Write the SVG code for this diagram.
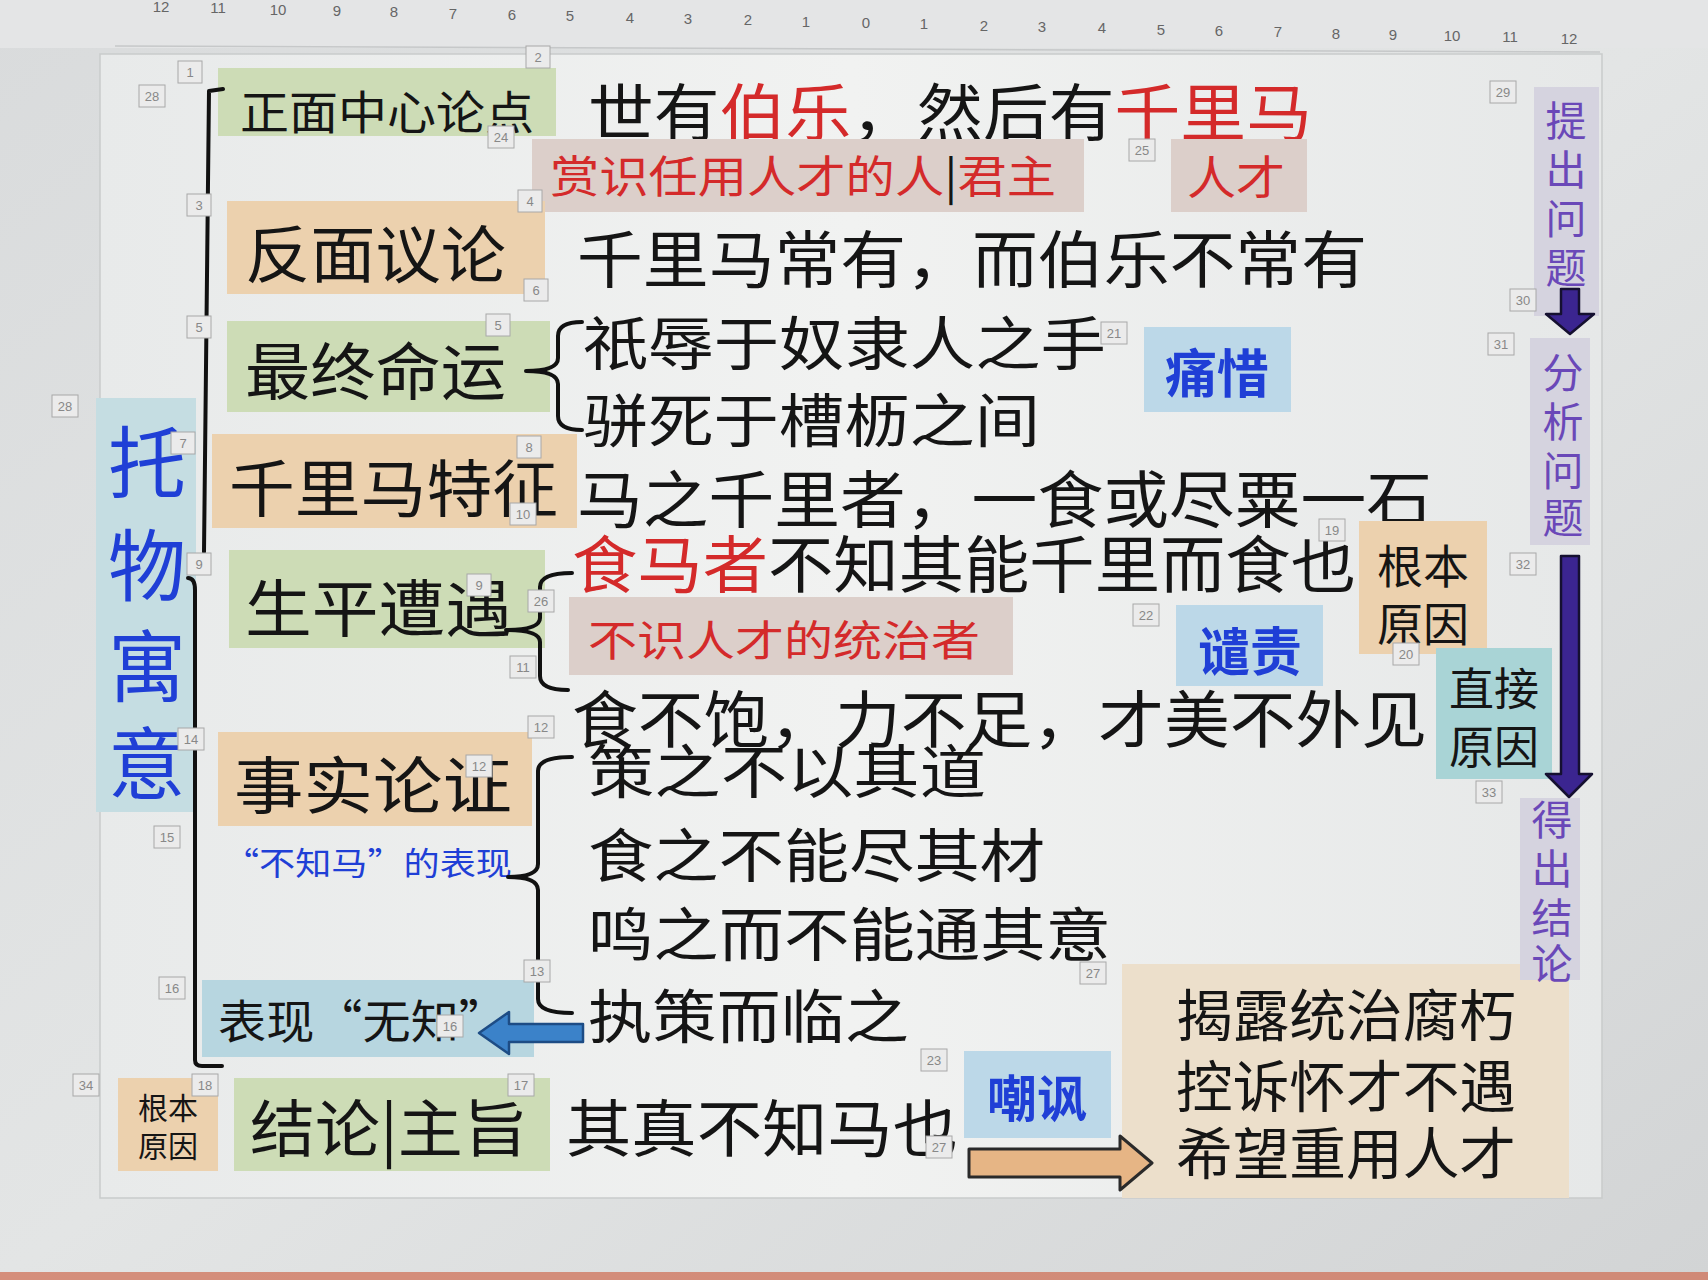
<svg xmlns="http://www.w3.org/2000/svg" width="1708" height="1280" viewBox="0 0 1708 1280">
<defs>
<style>
.cjk{font-family:"Noto Sans CJK SC","Noto Sans CJK TC",sans-serif;dominant-baseline:central}
.blk{fill:#151515}
.red{fill:#d42a2a}
.blue{fill:#1f3fd6}
.purp{fill:#6a48b8}
.bold{font-weight:700}
.green{fill:#cddcb6}
.orange{fill:#ecd1ae}
.pink{fill:#dccfca}
.lblue{fill:#bcd8e8}
.tag rect{fill:#ebebeb;stroke:#a8a8a8;stroke-width:1}
.tag text{font-family:"Liberation Sans",Arial,sans-serif;font-size:13px;fill:#888;text-anchor:middle;dominant-baseline:central}
.ruler text{font-family:"Liberation Sans",Arial,sans-serif;font-size:15px;fill:#666;text-anchor:middle;dominant-baseline:central}
.brace{fill:none;stroke:#111;stroke-width:4;stroke-linecap:round;stroke-linejoin:round}
.panel{fill:#d5d3df}
</style>
<linearGradient id="bg" x1="0" y1="0" x2="1" y2="1">
<stop offset="0" stop-color="#d9dbdc"/>
<stop offset="0.5" stop-color="#e3e5e5"/>
<stop offset="1" stop-color="#d2d4d5"/>
</linearGradient>
<linearGradient id="slide" x1="0" y1="0" x2="1" y2="0">
<stop offset="0" stop-color="#e8eaea"/>
<stop offset="0.5" stop-color="#f1f2f1"/>
<stop offset="1" stop-color="#e6e8e8"/>
</linearGradient>
</defs>

<!-- background -->
<rect x="0" y="0" width="1708" height="1280" fill="url(#bg)"/>
<rect x="0" y="0" width="1708" height="48" fill="#e4e5e6"/>
<line x1="115" y1="46" x2="1600" y2="52" stroke="#c6c8c9" stroke-width="1.5"/>
<rect x="100" y="54" width="1502" height="1144" fill="url(#slide)" stroke="#c9cbcb" stroke-width="1.5"/>
<rect x="0" y="1272" width="1708" height="8" fill="#cf6a4e" opacity="0.7"/>

<g class="ruler">
<text x="161" y="6">12</text><text x="218" y="7">11</text><text x="278" y="9">10</text><text x="337" y="10">9</text><text x="394" y="11">8</text><text x="453" y="13">7</text><text x="512" y="14">6</text><text x="570" y="15">5</text><text x="630" y="17">4</text><text x="688" y="18">3</text><text x="748" y="19">2</text><text x="806" y="21">1</text><text x="866" y="22">0</text><text x="924" y="23">1</text><text x="984" y="25">2</text><text x="1042" y="26">3</text><text x="1102" y="27">4</text><text x="1161" y="29">5</text><text x="1219" y="30">6</text><text x="1278" y="31">7</text><text x="1336" y="33">8</text><text x="1393" y="34">9</text><text x="1452" y="35">10</text><text x="1510" y="36">11</text><text x="1569" y="38">12</text>
</g>

<!-- nodes -->
<g id="n-zhengmian">
<rect class="green" x="218" y="68" width="338" height="68"/>
<text class="cjk blk" x="240" y="109" font-size="46" textLength="294" lengthAdjust="spacingAndGlyphs">正面中心论点</text>
</g>
<g id="n-shiyou">
<text class="cjk blk" x="588" y="109" font-size="62" textLength="724" lengthAdjust="spacingAndGlyphs">世有<tspan class="red">伯乐</tspan>，然后有<tspan class="red">千里马</tspan></text>
</g>
<g id="n-shangshi">
<rect class="pink" x="532" y="139" width="552" height="73"/>
<text class="cjk red" x="550" y="174" font-size="44" textLength="506" lengthAdjust="spacingAndGlyphs">赏识任用人才的人<tspan class="blk">|</tspan>君主</text>
</g>
<g id="n-rencai">
<rect class="pink" x="1171" y="139" width="136" height="73"/>
<text class="cjk red" x="1187" y="174" font-size="46" textLength="98" lengthAdjust="spacingAndGlyphs">人才</text>
</g>
<g id="n-fanmian">
<rect class="orange" x="227" y="201" width="318" height="93"/>
<text class="cjk blk" x="245" y="251" font-size="62" textLength="261" lengthAdjust="spacingAndGlyphs">反面议论</text>
</g>
<g id="n-changyou">
<text class="cjk blk" x="577" y="256" font-size="62" textLength="790" lengthAdjust="spacingAndGlyphs">千里马常有，而伯乐不常有</text>
</g>
<g id="n-zuizhong">
<rect class="green" x="227" y="321" width="323" height="91"/>
<text class="cjk blk" x="245" y="368" font-size="62" textLength="261" lengthAdjust="spacingAndGlyphs">最终命运</text>
</g>
<g id="n-zhiru">
<text class="cjk blk" x="583" y="340" font-size="58" textLength="523" lengthAdjust="spacingAndGlyphs">祇辱于奴隶人之手</text>
</g>
<g id="n-pianshi">
<text class="cjk blk" x="583" y="417" font-size="58" textLength="457" lengthAdjust="spacingAndGlyphs">骈死于槽枥之间</text>
</g>
<g id="n-tongxi">
<rect class="lblue" x="1144" y="327" width="147" height="85"/>
<text class="cjk blue bold" x="1217" y="370" font-size="52" text-anchor="middle">痛惜</text>
</g>
<g id="n-tuowu">
<rect fill="#c5dde2" x="96" y="398" width="100" height="414"/>
<text class="cjk blue" x="147" y="458" font-size="78" text-anchor="middle">托</text>
<text class="cjk blue" x="147" y="561" font-size="78" text-anchor="middle">物</text>
<text class="cjk blue" x="147" y="662" font-size="78" text-anchor="middle">寓</text>
<text class="cjk blue" x="147" y="759" font-size="78" text-anchor="middle">意</text>
</g>
<g id="n-tezheng">
<rect class="orange" x="212" y="434" width="365" height="94"/>
<text class="cjk blk" x="229" y="485" font-size="62" textLength="329" lengthAdjust="spacingAndGlyphs">千里马特征</text>
</g>
<g id="n-mazhi">
<text class="cjk blk" x="577" y="496" font-size="62" textLength="855" lengthAdjust="spacingAndGlyphs">马之千里者，一食或尽粟一石</text>
</g>
<g id="n-shengping">
<rect class="green" x="229" y="550" width="316" height="98"/>
<text class="cjk blk" x="245" y="605" font-size="62" textLength="267" lengthAdjust="spacingAndGlyphs">生平遭遇</text>
</g>
<g id="n-simazhe">
<text class="cjk blk" x="572" y="561" font-size="62" textLength="784" lengthAdjust="spacingAndGlyphs"><tspan class="red">食马者</tspan>不知其能千里而食也</text>
</g>
<g id="n-bushi">
<rect class="pink" x="569" y="597" width="444" height="78"/>
<text class="cjk red" x="588" y="637" font-size="42" textLength="392" lengthAdjust="spacingAndGlyphs">不识人才的统治者</text>
</g>
<g id="n-qianze">
<rect class="lblue" x="1176" y="605" width="147" height="81"/>
<text class="cjk blue bold" x="1250" y="648" font-size="52" text-anchor="middle">谴责</text>
</g>
<g id="n-genben">
<rect class="orange" x="1359" y="521" width="128" height="133"/>
<text class="cjk blk" x="1423" y="563" font-size="46" text-anchor="middle">根本</text>
<text class="cjk blk" x="1423" y="621" font-size="46" text-anchor="middle">原因</text>
</g>
<g id="n-zhijie">
<rect fill="#a9d4d6" x="1436" y="648" width="116" height="131"/>
<text class="cjk blk" x="1494" y="686" font-size="45" text-anchor="middle">直接</text>
<text class="cjk blk" x="1494" y="744" font-size="45" text-anchor="middle">原因</text>
</g>
<g id="n-shibubao">
<text class="cjk blk" x="572" y="716" font-size="62" textLength="855" lengthAdjust="spacingAndGlyphs">食不饱，力不足，才美不外见</text>
</g>
<g id="n-shishi">
<rect class="orange" x="218" y="732" width="314" height="94"/>
<text class="cjk blk" x="234" y="782" font-size="62" textLength="278" lengthAdjust="spacingAndGlyphs">事实论证</text>
<text class="cjk blue" x="223" y="861" font-size="32" textLength="289" lengthAdjust="spacingAndGlyphs">“不知马”的表现</text>
</g>
<g id="n-cezhi">
<text class="cjk blk" x="588" y="768" font-size="58" textLength="398" lengthAdjust="spacingAndGlyphs">策之不以其道</text>
</g>
<g id="n-sizhi">
<text class="cjk blk" x="588" y="852" font-size="58" textLength="457" lengthAdjust="spacingAndGlyphs">食之不能尽其材</text>
</g>
<g id="n-mingzhi">
<text class="cjk blk" x="588" y="931" font-size="58" textLength="523" lengthAdjust="spacingAndGlyphs">鸣之而不能通其意</text>
</g>
<g id="n-zhice">
<text class="cjk blk" x="588" y="1013" font-size="58" textLength="321" lengthAdjust="spacingAndGlyphs">执策而临之</text>
</g>
<g id="n-wuzhi">
<rect fill="#b7d6e0" x="202" y="980" width="332" height="77"/>
<text class="cjk blk" x="218" y="1018" font-size="46" textLength="289" lengthAdjust="spacingAndGlyphs">表现“无知”</text>
</g>
<g id="n-genben2">
<rect class="orange" x="118" y="1078" width="100" height="93"/>
<text class="cjk blk" x="168" y="1106" font-size="30" text-anchor="middle">根本</text>
<text class="cjk blk" x="168" y="1144" font-size="30" text-anchor="middle">原因</text>
</g>
<g id="n-jielun">
<rect class="green" x="234" y="1078" width="316" height="93"/>
<text class="cjk blk" x="250" y="1125" font-size="62" textLength="278" lengthAdjust="spacingAndGlyphs">结论|主旨</text>
</g>
<g id="n-qizhen">
<text class="cjk blk" x="566" y="1125" font-size="62" textLength="392" lengthAdjust="spacingAndGlyphs">其真不知马也</text>
</g>
<g id="n-chaofeng">
<rect class="lblue" x="964" y="1051" width="147" height="87"/>
<text class="cjk blue bold" x="1037" y="1095" font-size="50" text-anchor="middle">嘲讽</text>
</g>
<g id="n-jielu">
<rect fill="#ecdfcb" x="1122" y="964" width="447" height="234"/>
<text class="cjk blk" x="1176" y="1011" font-size="56" textLength="340" lengthAdjust="spacingAndGlyphs">揭露统治腐朽</text>
<text class="cjk blk" x="1176" y="1082" font-size="56" textLength="340" lengthAdjust="spacingAndGlyphs">控诉怀才不遇</text>
<text class="cjk blk" x="1176" y="1149" font-size="56" textLength="340" lengthAdjust="spacingAndGlyphs">希望重用人才</text>
</g>
<g id="n-tichu">
<rect class="panel" x="1534" y="87" width="65" height="229"/>
<text class="cjk purp" x="1566" y="118" font-size="41" text-anchor="middle">提</text>
<text class="cjk purp" x="1566" y="167" font-size="41" text-anchor="middle">出</text>
<text class="cjk purp" x="1566" y="216" font-size="41" text-anchor="middle">问</text>
<text class="cjk purp" x="1566" y="265" font-size="41" text-anchor="middle">题</text>
</g>
<g id="n-fenxi">
<rect class="panel" x="1530" y="338" width="60" height="207"/>
<text class="cjk purp" x="1563" y="370" font-size="41" text-anchor="middle">分</text>
<text class="cjk purp" x="1563" y="419" font-size="41" text-anchor="middle">析</text>
<text class="cjk purp" x="1563" y="468" font-size="41" text-anchor="middle">问</text>
<text class="cjk purp" x="1563" y="515" font-size="41" text-anchor="middle">题</text>
</g>
<g id="n-dechu">
<rect class="panel" x="1520" y="798" width="60" height="182"/>
<text class="cjk purp" x="1552" y="817" font-size="41" text-anchor="middle">得</text>
<text class="cjk purp" x="1552" y="866" font-size="41" text-anchor="middle">出</text>
<text class="cjk purp" x="1552" y="915" font-size="41" text-anchor="middle">结</text>
<text class="cjk purp" x="1552" y="961" font-size="41" text-anchor="middle">论</text>
</g>

<!-- connectors -->
<g id="connectors">
<path class="brace" d="M223,89 L209,91 L204,552"/>
<path class="brace" d="M188,578 Q195,578 195,590 L195,1060 Q195,1066 202,1066 L222,1066"/>
<path class="brace" d="M582,322 Q558,322 558,336 L558,358 Q558,371 526,371 Q558,371 558,384 L558,416 Q558,430 582,430"/>
<path class="brace" d="M572,573 Q540,573 540,587 L540,618 Q540,630 506,630 Q540,630 540,642 L540,676 Q540,690 568,690"/>
<path class="brace" d="M572,757 Q538,757 538,771 L538,864 Q538,877 508,877 Q538,877 538,890 L538,999 Q538,1013 572,1013"/>
<polygon points="479,1033 509,1012 509,1024 583,1024 583,1042 509,1042 509,1054" fill="#3b82c9" stroke="#1d4c85" stroke-width="2.5" stroke-linejoin="round"/>
<polygon points="969,1149 1120,1149 1120,1136 1152,1163 1120,1190 1120,1177 969,1177" fill="#e6b585" stroke="#2a2a2a" stroke-width="3" stroke-linejoin="round"/>
<polygon points="1561,289 1579,289 1579,314 1594,314 1570,334 1546,314 1561,314" fill="#3b2590" stroke="#151030" stroke-width="2.5" stroke-linejoin="round"/>
<polygon points="1561,556 1579,556 1579,774 1592,774 1569,797 1546,774 1561,774" fill="#3b2590" stroke="#151030" stroke-width="2.5" stroke-linejoin="round"/>
</g>

<!-- animation order tags -->
<g id="tags" class="tag">
<rect x="178" y="61" width="24" height="22"/><text x="190" y="72">1</text>
<rect x="526" y="46" width="24" height="22"/><text x="538" y="57">2</text>
<rect x="139" y="85" width="26" height="22"/><text x="152" y="96">28</text>
<rect x="488" y="126" width="26" height="22"/><text x="501" y="137">24</text>
<rect x="1129" y="139" width="26" height="22"/><text x="1142" y="150">25</text>
<rect x="1490" y="81" width="26" height="22"/><text x="1503" y="92">29</text>
<rect x="187" y="194" width="24" height="22"/><text x="199" y="205">3</text>
<rect x="518" y="190" width="24" height="22"/><text x="530" y="201">4</text>
<rect x="524" y="279" width="24" height="22"/><text x="536" y="290">6</text>
<rect x="187" y="316" width="24" height="22"/><text x="199" y="327">5</text>
<rect x="486" y="314" width="24" height="22"/><text x="498" y="325">5</text>
<rect x="1101" y="322" width="26" height="22"/><text x="1114" y="333">21</text>
<rect x="1510" y="289" width="26" height="22"/><text x="1523" y="300">30</text>
<rect x="1488" y="333" width="26" height="22"/><text x="1501" y="344">31</text>
<rect x="52" y="395" width="26" height="22"/><text x="65" y="406">28</text>
<rect x="171" y="432" width="24" height="22"/><text x="183" y="443">7</text>
<rect x="517" y="436" width="24" height="22"/><text x="529" y="447">8</text>
<rect x="510" y="503" width="26" height="22"/><text x="523" y="514">10</text>
<rect x="187" y="553" width="24" height="22"/><text x="199" y="564">9</text>
<rect x="467" y="574" width="24" height="22"/><text x="479" y="585">9</text>
<rect x="528" y="590" width="26" height="22"/><text x="541" y="601">26</text>
<rect x="1319" y="519" width="26" height="22"/><text x="1332" y="530">19</text>
<rect x="1133" y="604" width="26" height="22"/><text x="1146" y="615">22</text>
<rect x="1510" y="553" width="26" height="22"/><text x="1523" y="564">32</text>
<rect x="1393" y="643" width="26" height="22"/><text x="1406" y="654">20</text>
<rect x="510" y="656" width="26" height="22"/><text x="523" y="667">11</text>
<rect x="528" y="716" width="26" height="22"/><text x="541" y="727">12</text>
<rect x="178" y="728" width="26" height="22"/><text x="191" y="739">14</text>
<rect x="466" y="755" width="26" height="22"/><text x="479" y="766">12</text>
<rect x="1476" y="781" width="26" height="22"/><text x="1489" y="792">33</text>
<rect x="154" y="826" width="26" height="22"/><text x="167" y="837">15</text>
<rect x="1080" y="962" width="26" height="22"/><text x="1093" y="973">27</text>
<rect x="524" y="960" width="26" height="22"/><text x="537" y="971">13</text>
<rect x="159" y="977" width="26" height="22"/><text x="172" y="988">16</text>
<rect x="437" y="1015" width="26" height="22"/><text x="450" y="1026">16</text>
<rect x="921" y="1049" width="26" height="22"/><text x="934" y="1060">23</text>
<rect x="73" y="1074" width="26" height="22"/><text x="86" y="1085">34</text>
<rect x="192" y="1074" width="26" height="22"/><text x="205" y="1085">18</text>
<rect x="508" y="1074" width="26" height="22"/><text x="521" y="1085">17</text>
<rect x="926" y="1136" width="26" height="22"/><text x="939" y="1147">27</text>
</g>
</svg>
